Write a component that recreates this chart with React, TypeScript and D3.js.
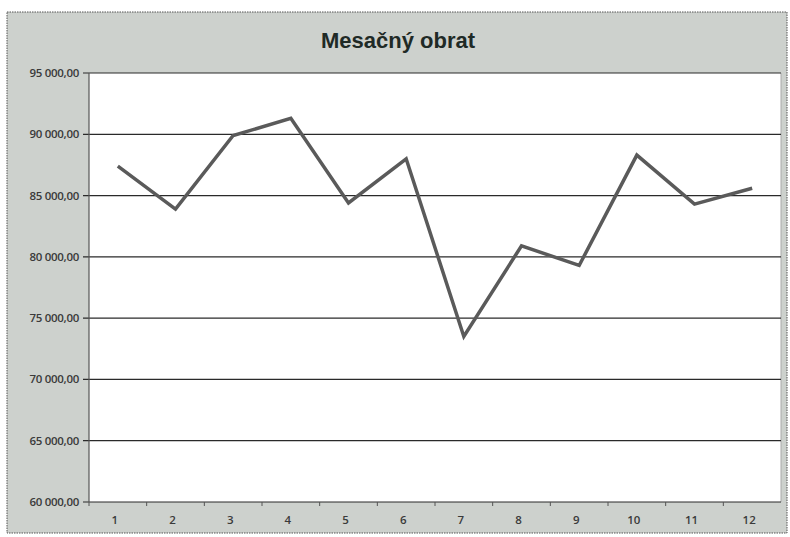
import React from 'react';
import * as d3 from 'd3';

// mesiace a hodnoty obratu
const months = ['1', '2', '3', '4', '5', '6', '7', '8', '9', '10', '11', '12'];
const turnover = [87400, 83900, 89900, 91300, 84400, 88000, 73500, 80900, 79300, 88300, 84300, 85600];
const yTicks = [60000, 65000, 70000, 75000, 80000, 85000, 90000, 95000];
const title = 'Mesačný obrat';

const W = 790, H = 537;
const plot = { left: 89, right: 781, top: 73, bottom: 502 };

const fmt = (v: number) => d3.format(',.2f')(v).replace(/,/g, ' ').replace('.', ',');

export default function App() {
    const x = d3.scaleBand<string>()
        .domain(months)
        .range([plot.left, plot.right]);
    const y = d3.scaleLinear()
        .domain([60000, 95000])
        .range([plot.bottom, plot.top]);

    const line = d3.line<number>()
        .x((d, i) => (x(months[i]) as number) + x.bandwidth() / 2)
        .y(d => y(d));

    const font = '"Liberation Sans", Arial, sans-serif';
    const labelFont = '"Open Sans", "Liberation Sans", sans-serif';

    return (
        <svg width={W} height={H} style={{ position: 'absolute', left: 0, top: 0 }}>
            {/* pozadie grafu */}
            <rect x={0} y={0} width={W} height={H} fill="#ffffff" />
            <rect x={7} y={12} width={780} height={521} fill="#cdd1cd"
                  stroke="#555" strokeWidth={1} strokeDasharray="1.5 1" />
            <text x={398} y={48} textAnchor="middle" fontFamily={font} fontWeight="bold"
                  fontSize={22} fill="#1f2a26">{title}</text>

            {/* plocha grafu */}
            <rect x={plot.left} y={plot.top} width={plot.right - plot.left}
                  height={plot.bottom - plot.top} fill="#ffffff" />
            <line x1={plot.right} x2={plot.right} y1={plot.top} y2={plot.bottom} stroke="#aaa" />

            {/* mriežka a os y */}
            {yTicks.map(t => (
                <g key={t}>
                    <line x1={plot.left - 6} x2={plot.right} y1={y(t)} y2={y(t)}
                          stroke="#2a2a2a" strokeWidth={1.2} />
                    <text x={79} y={y(t) + 4} textAnchor="end" fontFamily={labelFont}
                          fontSize={11.5} fontWeight="600" fill="#3a3a3a"
                          letterSpacing={-0.3}>{fmt(t)}</text>
                </g>
            ))}
            <line x1={plot.left} x2={plot.left} y1={plot.top} y2={plot.bottom}
                  stroke="#555" strokeWidth={1.2} />

            {/* os x */}
            {months.map((m, i) => (
                <g key={m}>
                    <line x1={x(m) as number} x2={x(m) as number} y1={plot.bottom} y2={plot.bottom + 4}
                          stroke="#555" />
                    <text x={(x(m) as number) + x.bandwidth() / 2 - 3} y={plot.bottom + 22}
                          textAnchor="middle" fontFamily={labelFont} fontSize={11.5}
                          fontWeight="600" fill="#3a3a3a">{m}</text>
                </g>
            ))}

            {/* krivka obratu */}
            <path d={line(turnover) || ''} fill="none" stroke="#5a5a5a" strokeWidth={3.5}
                  strokeLinejoin="miter" />
        </svg>
    );
}
